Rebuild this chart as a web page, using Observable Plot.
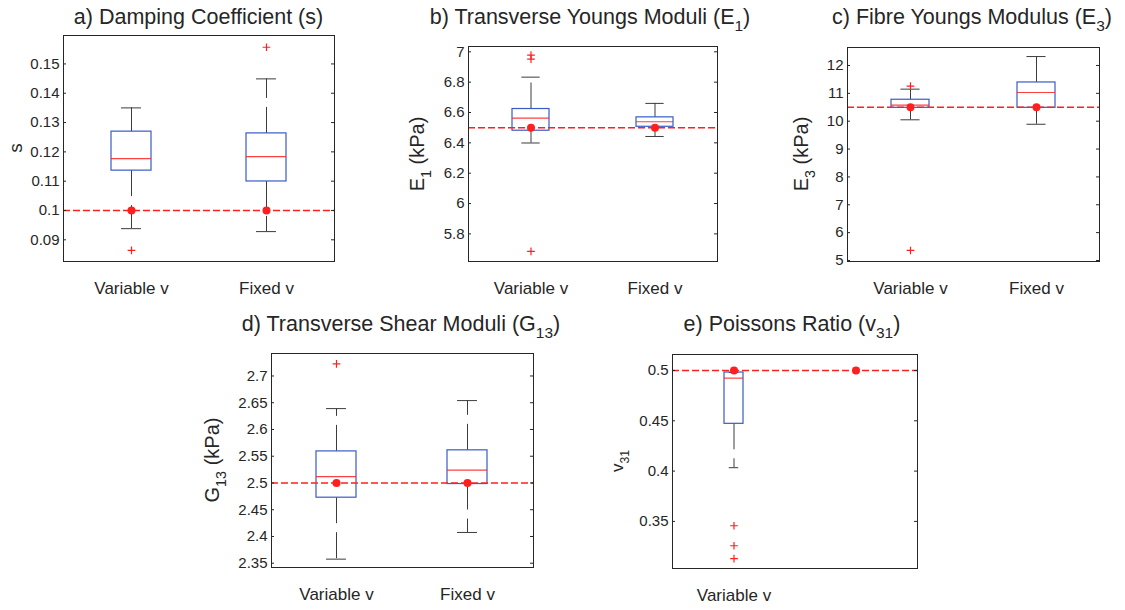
<!DOCTYPE html>
<html><head><meta charset="utf-8">
<script src="https://cdn.jsdelivr.net/npm/d3@7"></script>
<script src="https://cdn.jsdelivr.net/npm/@observablehq/plot@0.6"></script>
<style>
body{margin:0;background:#fff;}
#root{position:relative;width:1125px;height:610px;overflow:hidden;background:#fff;font-family:"Liberation Sans",Arial,Helvetica,sans-serif;color:#262626;}
#root svg{position:absolute;overflow:visible;}
.title{position:absolute;font-size:21.5px;line-height:22px;white-space:nowrap;transform:translateX(-50%);}
.ylab{position:absolute;white-space:nowrap;line-height:1;transform:translate(-50%,-50%) rotate(-90deg);}
sub{font-size:0.72em;line-height:1;vertical-align:-0.45em;}
</style></head><body><div id="root"></div>
<script>
// ---------------- DATA ----------------
const categories = ["Variable v", "Fixed v"];

// a) Damping coefficient s
const dampQ1 = [0.1136, 0.1099];
const dampMedian = [0.1177, 0.1184];
const dampQ3 = [0.1269, 0.1263];
const dampWhiskerLo = [0.0938, 0.0928];
const dampWhiskerHi = [0.1350, 0.1449];
const dampOutliers = [[0.0864], [0.1557]];
const dampTrue = [0.1, 0.1];
const dampTicks = [0.09, 0.10, 0.11, 0.12, 0.13, 0.14, 0.15];

// b) Transverse Youngs moduli E1 (kPa)
const e1Q1 = [6.480, 6.506];
const e1Median = [6.563, 6.539];
const e1Q3 = [6.623, 6.568];
const e1WhiskerLo = [6.399, 6.442];
const e1WhiskerHi = [6.833, 6.660];
const e1Outliers = [[6.978, 6.952, 5.685], []];
const e1True = [6.5, 6.5];
const e1Ticks = [5.8, 6.0, 6.2, 6.4, 6.6, 6.8, 7.0];

// c) Fibre Youngs modulus E3 (kPa)
const e3Q1 = [10.48, 10.48];
const e3Median = [10.58, 11.03];
const e3Q3 = [10.77, 11.39];
const e3WhiskerLo = [10.05, 9.89];
const e3WhiskerHi = [11.15, 12.32];
const e3Outliers = [[11.26, 5.36], []];
const e3True = [10.5, 10.5];
const e3Ticks = [5, 6, 7, 8, 9, 10, 11, 12];

// d) Transverse shear moduli G13 (kPa)
const g13Q1 = [2.4725, 2.498];
const g13Median = [2.512, 2.524];
const g13Q3 = [2.559, 2.561];
const g13WhiskerLo = [2.3576, 2.4075];
const g13WhiskerHi = [2.639, 2.654];
const g13Outliers = [[2.7225], []];
const g13True = [2.5, 2.5];
const g13Ticks = [2.35, 2.40, 2.45, 2.50, 2.55, 2.60, 2.65, 2.70];

// e) Poissons ratio v31 (fixed case has no spread)
const v31Q1 = [0.447, null];
const v31Median = [0.4924, null];
const v31Q3 = [0.498, null];
const v31WhiskerLo = [0.4034, null];
const v31WhiskerHi = [0.498, null];
const v31Outliers = [[0.3457, 0.3258, 0.3131], []];
const v31True = [0.5, 0.5];
const v31Ticks = [0.35, 0.40, 0.45, 0.50];

// ---------------- LAYOUT / STYLE ----------------
const panels = [
  {stats:[dampQ1,dampMedian,dampQ3,dampWhiskerLo,dampWhiskerHi,dampOutliers,dampTrue], ticks:dampTicks,
   frame:{x:63,y:35,w:271,h:226}, domain:[0.0826,0.1597], boxFrac:0.148,
   title:"a) Damping Coefficient (s)", titleX:198.5, titleBase:25,
   ylab:"s", ylabX:15, ylabSize:19, hideX:[]},
  {stats:[e1Q1,e1Median,e1Q3,e1WhiskerLo,e1WhiskerHi,e1Outliers,e1True], ticks:e1Ticks,
   frame:{x:468,y:46,w:249,h:215}, domain:[5.618,7.035], boxFrac:0.15,
   title:"b) Transverse Youngs Moduli (E<sub>1</sub>)", titleX:590, titleBase:25,
   ylab:"E<sub>1</sub> (kPa)", ylabX:420, ylabSize:20, hideX:[]},
  {stats:[e3Q1,e3Median,e3Q3,e3WhiskerLo,e3WhiskerHi,e3Outliers,e3True], ticks:e3Ticks,
   frame:{x:847,y:47,w:252,h:214}, domain:[4.964,12.645], boxFrac:0.15,
   title:"c) Fibre Youngs Modulus (E<sub>3</sub>)", titleX:972, titleBase:25,
   ylab:"E<sub>3</sub> (kPa)", ylabX:804, ylabSize:20, hideX:[]},
  {stats:[g13Q1,g13Median,g13Q3,g13WhiskerLo,g13WhiskerHi,g13Outliers,g13True], ticks:g13Ticks,
   frame:{x:271,y:353,w:262,h:214}, domain:[2.342,2.742], boxFrac:0.153,
   title:"d) Transverse Shear Moduli (G<sub>13</sub>)", titleX:401, titleBase:331.7,
   ylab:"G<sub>13</sub> (kPa)", ylabX:215, ylabSize:20, hideX:[]},
  {stats:[v31Q1,v31Median,v31Q3,v31WhiskerLo,v31WhiskerHi,v31Outliers,v31True], ticks:v31Ticks,
   frame:{x:672,y:354,w:245,h:214}, domain:[0.3032,0.5159], boxFrac:0.078,
   title:"e) Poissons Ratio (v<sub>31</sub>)", titleX:792, titleBase:331.7,
   ylab:"v<sub>31</sub>", ylabX:620, ylabSize:17, hideX:["Fixed v"]}
];

const BLUE = "#3a5bc7", RED = "#ff1f1f", WHISK = "#3c3c3c", INK = "#262626";
const M = {l:60, r:10, t:10, b:45};
const fmt = d3.format("~g");
const root = document.getElementById("root");

for (const p of panels) {
  const [q1, med, q3, lo, hi, outl, tru] = p.stats;
  const rows = categories.map((c, i) => ({cat:c, q1:q1[i], med:med[i], q3:q3[i], lo:lo[i], hi:hi[i]}))
                         .filter(r => r.q1 != null);
  const outliers = categories.flatMap((c, i) => outl[i].map(v => ({cat:c, v})));
  const trues = categories.map((c, i) => ({cat:c, v:tru[i]}));
  const {w, h} = p.frame;
  const pi = 1 - 2 * p.boxFrac;
  const boxW = w * p.boxFrac;
  const capInset = boxW / 4;

  const svg = Plot.plot({
    width: w + M.l + M.r, height: h + M.t + M.b,
    marginLeft: M.l, marginRight: M.r, marginTop: M.t, marginBottom: M.b,
    style: {fontFamily: '"Liberation Sans", Arial, Helvetica, sans-serif', fontSize: "15px", color: INK, background: "transparent", overflow: "visible"},
    x: {type: "band", domain: categories, paddingInner: pi, paddingOuter: pi / 2},
    y: {domain: p.domain},
    marks: [
      // whiskers (dashed like MATLAB)
      Plot.ruleX(rows, {x: "cat", y1: "q3", y2: "hi", stroke: WHISK, strokeDasharray: "26,9"}),
      Plot.ruleX(rows, {x: "cat", y1: "q1", y2: "lo", stroke: WHISK, strokeDasharray: "26,9"}),
      Plot.tickY(rows, {x: "cat", y: "hi", stroke: WHISK, inset: capInset}),
      Plot.tickY(rows, {x: "cat", y: "lo", stroke: WHISK, inset: capInset}),
      // box
      Plot.barY(rows, {x: "cat", y1: "q1", y2: "q3", fill: "none", stroke: BLUE, strokeWidth: 1.2}),
      Plot.tickY(rows, {x: "cat", y: "med", stroke: RED, strokeWidth: 1.2, strokeOpacity: 0.85}),
      // reference (true) value
      Plot.ruleY([tru[0]], {stroke: RED, strokeWidth: 1.6, strokeDasharray: "7,3"}),
      // outliers
      Plot.dot(outliers, {x: "cat", y: "v", symbol: "plus", stroke: RED, r: 2.6, strokeWidth: 1.2}),
      // true-value markers
      Plot.dot(trues, {x: "cat", y: "v", fill: RED, r: 4}),
      // axes
      Plot.axisY({ticks: p.ticks, tickFormat: fmt, tickSize: 0, tickPadding: 4, label: null, fill: INK}),
      Plot.tickY(p.ticks, {y: d => d, stroke: INK, insetRight: w - 3}),
      Plot.tickY(p.ticks, {y: d => d, stroke: INK, insetLeft: w - 3}),
      Plot.axisX({tickSize: 0, tickPadding: 20, fontSize: 17, label: null, fill: INK,
                  tickFormat: d => p.hideX.includes(d) ? "" : d}),
      Plot.frame({stroke: INK, strokeWidth: 1})
    ]
  });
  svg.style.left = (p.frame.x - M.l) + "px";
  svg.style.top = (p.frame.y - M.t) + "px";
  root.appendChild(svg);

  const t = document.createElement("div");
  t.className = "title";
  t.innerHTML = p.title;
  t.style.left = p.titleX + "px";
  t.style.top = (p.titleBase - 19) + "px";
  root.appendChild(t);

  const yl = document.createElement("div");
  yl.className = "ylab";
  yl.innerHTML = p.ylab;
  yl.style.fontSize = p.ylabSize + "px";
  yl.style.left = p.ylabX + "px";
  yl.style.top = (p.frame.y + p.frame.h / 2) + "px";
  root.appendChild(yl);
}
</script></body></html>
